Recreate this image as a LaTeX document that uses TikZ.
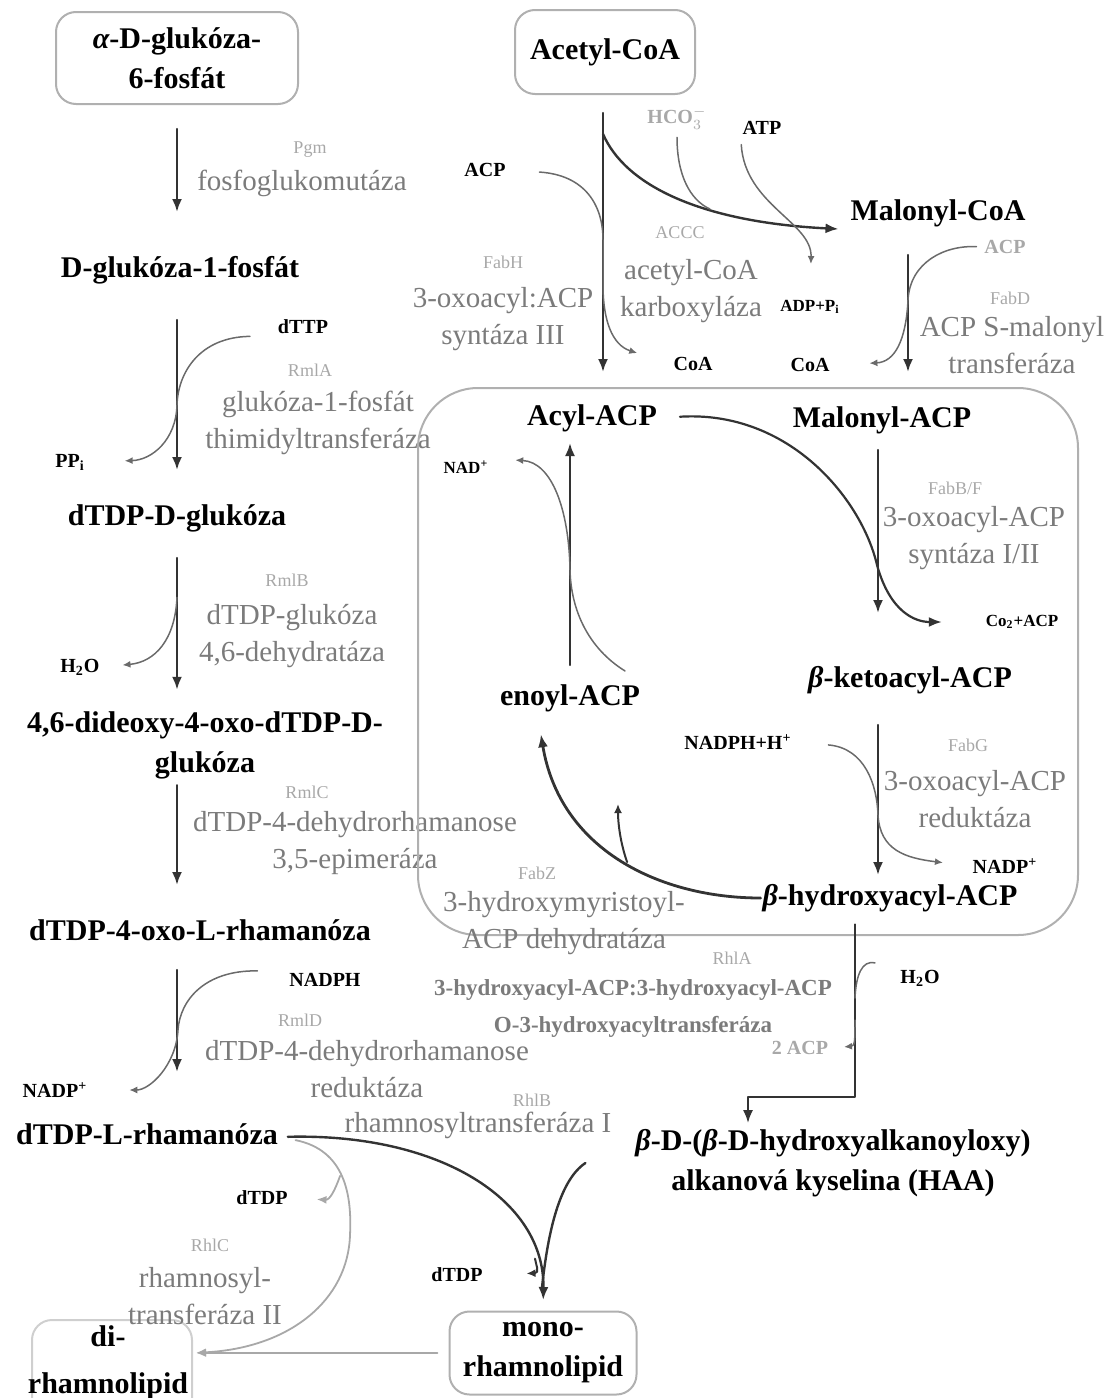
\documentclass[tikz,border=0pt]{standalone}
\usepackage{fontspec}
\setmainfont{Liberation Serif}
\usepackage{tikz}
\usetikzlibrary{arrows.meta,calc}
\definecolor{gDark}{HTML}{333333}
\definecolor{gMid}{HTML}{6A6A6A}
\definecolor{gText}{HTML}{7B7B7B}
\definecolor{gLight}{HTML}{A8A8A8}
\definecolor{gFrame}{HTML}{B0B0B0}
\definecolor{gPale}{HTML}{CFCFCF}
\newcommand{\grA}{{\itshape α}}
\newcommand{\grB}{{\itshape β}}
\tikzset{
  pathway/.style={
    every node/.style={inner sep=1pt, outer sep=0pt},
    line cap=round, line join=round,
  },
  metab/.style={
    font=\bfseries\fontsize{15}{20}\selectfont, text=black,
    text height=11pt, text depth=3.5pt,
  },
  metabTwo/.style={
    font=\bfseries\fontsize{15}{20}\selectfont, text=black, align=center,
  },
  metabBox/.style={
    metabTwo, draw=gFrame, line width=1pt, rounded corners=10pt,
  },
  enzTag/.style={font=\fontsize{9}{11}\selectfont, text=gLight},
  enzName/.style={font=\fontsize{14.5}{18.5}\selectfont, text=gText, align=center},
  enzNameSmall/.style={font=\bfseries\fontsize{11.5}{18.5}\selectfont, text=gText, align=center},
  cofactor/.style={font=\bfseries\fontsize{10}{12}\selectfont, text=black},
  cofactorSmall/.style={font=\bfseries\fontsize{8.5}{10}\selectfont, text=black},
  cofactorGhost/.style={font=\bfseries\fontsize{10}{12}\selectfont, text=gLight},
  mainFlow/.style={-{Latex[length=6.5pt, width=5pt]}, gDark, line width=1.2pt},
  sideFlow/.style={-{Latex[length=4pt, width=3.5pt]}, gMid, line width=0.75pt},
  sideLine/.style={gMid, line width=0.75pt},
  ghostFlow/.style={-{Latex[length=5pt, width=4pt]}, gLight, line width=0.9pt},
  cycleFrame/.style={gFrame, line width=1pt, rounded corners=30pt},
}
\begin{document}
\begin{tikzpicture}[pathway, x=0.5pt, y=-0.5pt,
    darkSide/.style={-{Latex[length=4.5pt, width=4pt]}, gDark, line width=1pt},
    mainLine/.style={gDark, line width=1.2pt},
  ]
\useasboundingbox (0,0) rectangle (1110,1398);

% ============================================================
% Column guides: x of the straight arrows.
% ============================================================
\coordinate (colL)    at (177,0);
\coordinate (colAc)   at (603,0);
\coordinate (colMal)  at (908,0);
\coordinate (colCyc)  at (878,0);
\coordinate (colEno)  at (570,0);
\coordinate (colRhlA) at (855,0);
\coordinate (colHaa)  at (748,0);

% ============================================================
% Left column: glucose-6-P down to dTDP-L-rhamnose.
% ============================================================
\node[metabBox, minimum width=121pt, minimum height=46pt] (glcSixP) at (177,58)
  {\grA-D-glukóza-\\6-fosfát};
\node[metab] (glcOneP) at (180,270) {D-glukóza-1-fosfát};
\node[metab] (dtdpGlc) at (177,518) {dTDP-D-glukóza};
\node[metabTwo] (oxoGlc) at (205,745) {4,6-dideoxy-4-oxo-dTDP-D-\\glukóza};
\node[metab] (oxoRha) at (200,933) {dTDP-4-oxo-L-rhamanóza};
\node[metab] (dtdpRha) at (147,1137) {dTDP-L-rhamanóza};

\node[enzTag]  (pgmTag)   at (310,150)  {Pgm};
\node[enzName] (pgmName)  at (302,183)  {fosfoglukomutáza};
\node[enzTag]  (rmlATag)  at (310,370)  {RmlA};
\node[enzName] (rmlAName) at (318,423)  {glukóza-1-fosfát\\thimidyltransferáza};
\node[enzTag]  (rmlBTag)  at (287,580)  {RmlB};
\node[enzName] (rmlBName) at (292,636)  {dTDP-glukóza\\4,6-dehydratáza};
\node[enzTag]  (rmlCTag)  at (307,792)  {RmlC};
\node[enzName] (rmlCName) at (355,843)  {dTDP-4-dehydrorhamanose\\3,5-epimeráza};
\node[enzTag]  (rmlDTag)  at (300,1020) {RmlD};
\node[enzName] (rmlDName) at (367,1069) {dTDP-4-dehydrorhamanose\\reduktáza};

\node[cofactor] (dttp)   at (303,327)  {dTTP};
\node[cofactor] (ppi)    at (70,462)   {PP\textsubscript{i}};
\node[cofactor] (waterB) at (80,667)   {H\textsubscript{2}O};
\node[cofactor] (nadphD) at (325,980)  {NADPH};
\node[cofactor] (nadpD)  at (55,1090)  {NADP\textsuperscript{+}};

\draw[mainFlow, shorten <=12.5pt, shorten >=20.75pt]
  (glcSixP.south -| colL) -- (glcOneP.north -| colL);
\draw[mainFlow, shorten <=16.75pt, shorten >=15.75pt]
  (glcOneP.south -| colL) -- (dtdpGlc.north -| colL);
\draw[mainFlow, shorten <=11.75pt, shorten >=9.75pt]
  (dtdpGlc.south -| colL) -- (oxoGlc.north -| colL) coordinate[pos=0.36] (rmlBFork);
\draw[mainFlow, shorten <=2.25pt, shorten >=15.75pt]
  (oxoGlc.south -| colL) -- (oxoRha.north -| colL);
\draw[mainFlow, shorten <=10.25pt, shorten >=24.25pt]
  (oxoRha.south -| colL) -- (dtdpRha.north -| colL);

% cofactor side arcs
\draw[sideFlow, shorten <=13pt, shorten >=19pt]
  (dttp.south west) .. controls (200,337) and (178,372) .. (177,405)
  .. controls (176,440) and (152,460) .. (ppi.east);
\draw[sideFlow, shorten >=10.5pt]
  (rmlBFork) .. controls (175,640) and (155,662) .. (waterB.east);
\draw[sideFlow, shorten <=15pt, shorten >=20pt]
  (nadphD.north west) .. controls (205,970) and (180,1000) .. (178,1030)
  .. controls (176,1065) and (150,1090) .. (nadpD.east);

% ============================================================
% Top right: acetyl-CoA, malonyl-CoA and the way into the cycle.
% ============================================================
\node[metabBox, minimum width=90pt, minimum height=42pt] (acetylCoA) at (605,52) {Acetyl-CoA};
\node[metab] (malCoA) at (938,213) {Malonyl-CoA};

\node[enzTag]  (fabHTag)  at (503,262)  {FabH};
\node[enzName] (fabHName) at (503,319)  {3-oxoacyl:ACP\\syntáza III};
\node[enzTag]  (accTag)   at (680,233)  {ACCC};
\node[enzName] (accName)  at (691,291)  {acetyl-CoA\\karboxyláza};
\node[enzTag]  (fabDTag)  at (1010,298) {FabD};
\node[enzName] (fabDName) at (1012,345) {ACP S-malonyl\\transferáza};

\node[cofactor]      (acpH) at (485,170)  {ACP};
\node[cofactor]      (coaH) at (693,364)  {CoA};
\node[cofactorGhost] (hco)  at (677,118)  {HCO$_3^-$};
\node[cofactor]      (atp)  at (762,128)  {ATP};
\node[cofactorSmall] (adp)  at (810,307)  {ADP+P\textsubscript{i}};
\node[cofactorGhost] (acpD) at (1005,247) {ACP};
\node[cofactor]      (coaD) at (810,365)  {CoA};

% ============================================================
% Fatty acid cycle (framed).
% ============================================================
\draw[cycleFrame] (418,388) rectangle (1078,935);

\node[metab] (acylAcp)    at (592,418) {Acyl-ACP};
\node[metab] (malAcp)     at (882,420) {Malonyl-ACP};
\node[metab] (ketoAcp)    at (910,680) {\grB-ketoacyl-ACP};
\node[metab] (enoylAcp)   at (570,698) {enoyl-ACP};
\node[metab] (hydroxyAcp) at (890,898) {\grB-hydroxyacyl-ACP};

\node[enzTag]  (fabBTag)  at (955,488) {FabB/F};
\node[enzName] (fabBName) at (974,538) {3-oxoacyl-ACP\\syntáza I/II};
\node[enzTag]  (fabGTag)  at (968,745) {FabG};
\node[enzName] (fabGName) at (975,799) {3-oxoacyl-ACP\\reduktáza};
\node[enzTag]  (fabZTag)  at (537,873) {FabZ};
\node[enzName] (fabZName) at (564,923) {3-hydroxymyristoyl-\\ACP dehydratáza};

\node[cofactorSmall] (nadPlus) at (466,467)  {NAD\textsuperscript{+}};
\node[cofactorSmall] (coAcp)   at (1022,622) {Co\textsubscript{2}+ACP};
\node[cofactor]      (nadphG)  at (738,742)  {NADPH+H\textsuperscript{+}};
\node[cofactor]      (nadpG)   at (1005,866) {NADP\textsuperscript{+}};

% straight steps
\draw[mainFlow, shorten <=9.5pt, shorten >=14.75pt]
  (acetylCoA.south -| colAc) -- (acylAcp.north -| colAc) coordinate[pos=0.13] (accFork);
\draw[mainFlow, shorten <=12.75pt, shorten >=15.75pt]
  (malCoA.south -| colMal) -- (malAcp.north -| colMal);
\draw[mainFlow, shorten <=6.75pt, shorten >=25.25pt]
  (malAcp.south -| colCyc) -- (ketoAcp.north -| colCyc);
\draw[mainFlow, shorten <=14.25pt, shorten >=3.25pt]
  (ketoAcp.south -| colCyc) -- (hydroxyAcp.north -| colCyc);
\draw[mainFlow, shorten <=8.25pt, shorten >=4.25pt]
  (enoylAcp.north -| colEno) -- (acylAcp.south -| colEno);

% carboxylation
\draw[mainFlow, shorten >=5pt]
  (accFork) .. controls (625,185) and (700,222) .. (malCoA.south west)
  coordinate[pos=0.62] (accJoin);
\draw[sideLine, shorten <=3pt]
  (hco.south) .. controls (677,175) and (690,200) .. (accJoin);
\draw[sideFlow, shorten <=4pt, shorten >=17pt]
  (atp.south west) .. controls (745,205) and (812,222) .. (adp.north);
\draw[sideFlow, shorten <=16pt, shorten >=18pt]
  (acpH.east) .. controls (585,175) and (603,205) .. (603,240) -- (603,285)
  .. controls (603,320) and (612,345) .. (coaH.west);
\draw[sideFlow, shorten <=3pt, shorten >=19pt]
  (acpD.west) .. controls (945,245) and (910,262) .. (908,300)
  .. controls (906,340) and (895,362) .. (coaD.east);

% condensation, reduction, dehydration
\draw[mainFlow, line width=1.1pt, shorten <=10.5pt, shorten >=21pt]
  (acylAcp.east) .. controls (790,410) and (862,500) .. (877,565)
  .. controls (890,612) and (915,622) .. (coAcp.west);
\draw[sideFlow, shorten <=17.5pt, shorten >=14pt]
  (nadphG.east) .. controls (865,748) and (877,785) .. (878,815)
  .. controls (880,850) and (905,858) .. (nadpG.west);
\draw[mainFlow, line width=1.4pt, shorten >=10pt]
  (hydroxyAcp.west) .. controls (660,898) and (560,850) .. (enoylAcp.-153)
  coordinate[pos=0.47] (fabZFork);
\coordinate (fabZOut) at (618,804);
\draw[darkSide] (fabZFork) .. controls (621,845) and (618,825) .. (fabZOut);
\draw[sideFlow, shorten <=10pt, shorten >=12.5pt]
  (enoylAcp.north east) .. controls (588,648) and (571,610) .. (570,570)
  .. controls (569,510) and (552,462) .. (nadPlus.north east);

% ============================================================
% RhlA: two hydroxyacyl-ACP give HAA.
% ============================================================
\node[metabTwo] (haa) at (833,1163)
  {\grB-D-(\grB-D-hydroxyalkanoyloxy)\\alkanová kyselina (HAA)};
\node[enzTag]       (rhlATag)  at (732,958)  {RhlA};
\node[enzNameSmall] (rhlAName) at (633,1008)
  {3-hydroxyacyl-ACP:3-hydroxyacyl-ACP\\O-3-hydroxyacyltransferáza};
\node[cofactor]      (waterA) at (920,978)  {H\textsubscript{2}O};
\node[cofactorGhost] (twoAcp) at (800,1048) {2 ACP};

\coordinate (rhlABend) at (800,1097);
\coordinate (rhlAIn)   at (855,998);
\coordinate (rhlAOut)  at (855,1020);
\draw[mainFlow, shorten <=5pt, shorten >=2pt]
  (hydroxyAcp.south -| colRhlA) |- (rhlABend) -| (haa.north -| colHaa);
\draw[sideLine, shorten <=12pt]
  (waterA.north west) .. controls (862,960) and (856,975) .. (rhlAIn);
\draw[sideFlow, shorten >=7pt]
  (rhlAOut) .. controls (855,1040) and (855,1046) .. (twoAcp.east);

% ============================================================
% Rhamnosyl transfers: mono- and di-rhamnolipid.
% ============================================================
\node[metabBox, minimum width=93.5pt, minimum height=41.5pt] (monoRl) at (543,1353)
  {mono-\\rhamnolipid};
\node[metabBox, draw=gPale, minimum width=80pt, minimum height=50pt] (diRl) at (112,1370) {};
\node[metabTwo, font=\bfseries\fontsize{15}{23.5}\selectfont] (diText) at (108,1363)
  {di-\\rhamnolipid};

\node[enzTag]  (rhlBTag)  at (532,1100) {RhlB};
\node[enzName] (rhlBName) at (478,1125) {rhamnosyltransferáza I};
\node[enzTag]  (rhlCTag)  at (210,1245) {RhlC};
\node[enzName] (rhlCName) at (205,1296) {rhamnosyl-\\transferáza II};

\node[cofactor] (dtdpOne) at (457,1275) {dTDP};
\node[cofactor] (dtdpTwo) at (262,1198) {dTDP};

\draw[mainFlow, shorten <=4pt, shorten >=5.75pt]
  (dtdpRha.east) .. controls (440,1133) and (545,1200) .. (monoRl.north)
  coordinate[pos=0.83] (rhlBOut) coordinate[pos=0.93] (rhlBJoin);
\draw[mainLine]
  ([xshift=-24pt]haa.west) .. controls (560,1180) and (548,1230) .. (rhlBJoin);
\draw[darkSide, shorten >=21pt]
  (rhlBOut) .. controls (536,1265) and (540,1273) .. (dtdpOne.east);

\draw[ghostFlow, shorten <=8pt, shorten >=2pt]
  (dtdpRha.east) .. controls (345,1150) and (352,1195) .. (350,1235)
  coordinate[pos=0.5] (rhlCOut)
  .. controls (348,1300) and (290,1348) .. (diRl.east |- monoRl.west);
\draw[ghostFlow, shorten >=13.5pt]
  (rhlCOut) .. controls (335,1190) and (330,1200) .. (dtdpTwo.east);
\draw[ghostFlow, shorten <=6pt, shorten >=2pt]
  (monoRl.west) -- (diRl.east |- monoRl.west);

\end{tikzpicture}
\end{document}
